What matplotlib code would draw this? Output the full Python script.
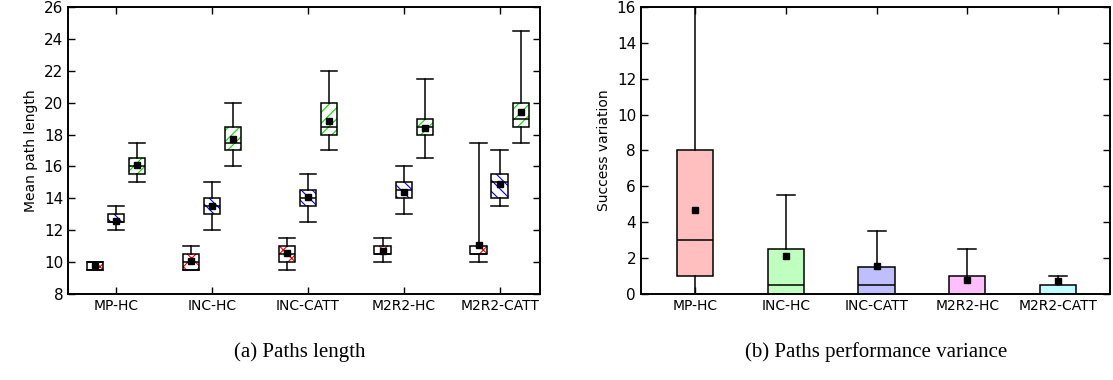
import matplotlib
matplotlib.use("Agg")
import matplotlib.pyplot as plt
import numpy as np

plt.rcParams['font.family'] = 'DejaVu Sans'
plt.rcParams['hatch.linewidth'] = 0.8

# ---- data: (a) mean path length, three series per algorithm ----
algos = ['MP-HC', 'INC-HC', 'INC-CATT', 'M2R2-HC', 'M2R2-CATT']

# red series
red_lo  = [9.5, 9.5, 9.5, 10.0, 10.0]
red_q1  = [9.5, 9.5, 10.0, 10.5, 10.5]
red_med = [10.0, 10.0, 10.5, 10.5, 10.5]
red_q3  = [10.0, 10.5, 11.0, 11.0, 11.0]
red_hi  = [10.0, 11.0, 11.5, 11.5, 17.5]
red_mean = [9.8, 10.05, 10.55, 10.72, 11.07]

# blue series
blue_lo  = [12.0, 12.0, 12.5, 13.0, 13.5]
blue_q1  = [12.5, 13.0, 13.5, 14.0, 14.0]
blue_med = [12.5, 13.5, 14.0, 14.5, 15.0]
blue_q3  = [13.0, 14.0, 14.5, 15.0, 15.5]
blue_hi  = [13.5, 15.0, 15.5, 16.0, 17.0]
blue_mean = [12.6, 13.55, 14.06, 14.42, 14.88]

# green series
green_lo  = [15.0, 16.0, 17.0, 16.5, 17.5]
green_q1  = [15.5, 17.0, 18.0, 18.0, 18.5]
green_med = [16.0, 17.5, 18.5, 18.5, 19.0]
green_q3  = [16.5, 18.5, 20.0, 19.0, 20.0]
green_hi  = [17.5, 20.0, 22.0, 21.5, 24.5]
green_mean = [16.1, 17.7, 18.87, 18.43, 19.4]

# ---- data: (b) success variation ----
var_lo  = [0.0, 0.0, 0.0, 0.0, 0.0]
var_q1  = [1.0, 0.0, 0.0, 0.0, 0.0]
var_med = [3.0, 0.5, 0.5, 0.0, 0.0]
var_q3  = [8.0, 2.5, 1.5, 1.0, 0.5]
var_hi  = [17.0, 5.5, 3.5, 2.5, 1.0]
var_mean = [4.7, 2.1, 1.58, 0.78, 0.72]
var_colors = ['#ffbfbf', '#bfffbf', '#bfbfff', '#ffbfff', '#bfffff']


def make_stats(lo, q1, med, q3, hi, mean):
    return [dict(whislo=a, q1=b, med=c, q3=d, whishi=e, mean=f, fliers=[])
            for a, b, c, d, e, f in zip(lo, q1, med, q3, hi, mean)]


def style_axes(ax):
    ax.tick_params(direction='in', top=True, right=True, length=5,
                   width=1.0)
    ax.tick_params(axis='y', labelsize=11)
    ax.tick_params(axis='x', labelsize=10)
    for s in ax.spines.values():
        s.set_linewidth(1.4)


fig = plt.figure(figsize=(11.13, 3.8), dpi=100)
ax1 = fig.add_axes([0.0611, 0.2263, 0.424, 0.7553])
ax2 = fig.add_axes([0.5759, 0.2263, 0.4218, 0.7553])

pos = np.arange(1, len(algos) + 1)
series = [
    (make_stats(red_lo, red_q1, red_med, red_q3, red_hi, red_mean), -0.22, 'red', 'xx'),
    (make_stats(blue_lo, blue_q1, blue_med, blue_q3, blue_hi, blue_mean), 0.0, 'blue', '\\\\\\'),
    (make_stats(green_lo, green_q1, green_med, green_q3, green_hi, green_mean), 0.22, '#00dd00', '///'),
]
w = 0.17
for stats, off, col, hatch in series:
    # hatched fill first
    bp = ax1.bxp(stats, positions=pos + off, widths=w, patch_artist=True,
                 showcaps=False, showmeans=False,
                 boxprops=dict(facecolor='white', edgecolor=col, linewidth=0),
                 whiskerprops=dict(linewidth=0), medianprops=dict(linewidth=0))
    for b in bp['boxes']:
        b.set_hatch(hatch)
        b.set_edgecolor(col)
        b.set_linewidth(0)
    # black outline on top
    ax1.bxp(stats, positions=pos + off, widths=w, patch_artist=True,
            showmeans=True, capwidths=w,
            boxprops=dict(facecolor='none', edgecolor='black', linewidth=1.1),
            whiskerprops=dict(color='black', linewidth=1.1),
            capprops=dict(color='black', linewidth=1.1),
            medianprops=dict(color='black', linewidth=1.1),
            meanprops=dict(marker='s', markerfacecolor='black',
                           markeredgecolor='black', markersize=4.5))

ax1.set_xlim(0.5, 5.42)
ax1.set_ylim(8, 26)
ax1.set_yticks(np.arange(8, 27, 2))
ax1.set_xticks(pos)
ax1.set_xticklabels(algos)
ax1.set_ylabel('Mean path length', fontsize=10)
style_axes(ax1)

stats_v = make_stats(var_lo, var_q1, var_med, var_q3, var_hi, var_mean)
bp2 = ax2.bxp(stats_v, positions=pos, widths=0.4, patch_artist=True,
              showmeans=True, capwidths=0.2,
              boxprops=dict(edgecolor='black', linewidth=1.1),
              whiskerprops=dict(color='black', linewidth=1.1),
              capprops=dict(color='black', linewidth=1.1),
              medianprops=dict(color='black', linewidth=1.1),
              meanprops=dict(marker='s', markerfacecolor='black',
                             markeredgecolor='black', markersize=4.5))
for b, c in zip(bp2['boxes'], var_colors):
    b.set_facecolor(c)

ax2.set_xlim(0.4, 5.58)
ax2.set_ylim(0, 16)
ax2.set_yticks(np.arange(0, 17, 2))
ax2.set_xticks(pos)
ax2.set_xticklabels(algos)
ax2.set_ylabel('Success variation', fontsize=10)
style_axes(ax2)

fig.text(0.269, 0.074, '(a) Paths length', ha='center', va='center',
         fontsize=15, family='Liberation Serif')
fig.text(0.787, 0.074, '(b) Paths performance variance', ha='center',
         va='center', fontsize=15, family='Liberation Serif')

fig.savefig('out.png', dpi=100)
